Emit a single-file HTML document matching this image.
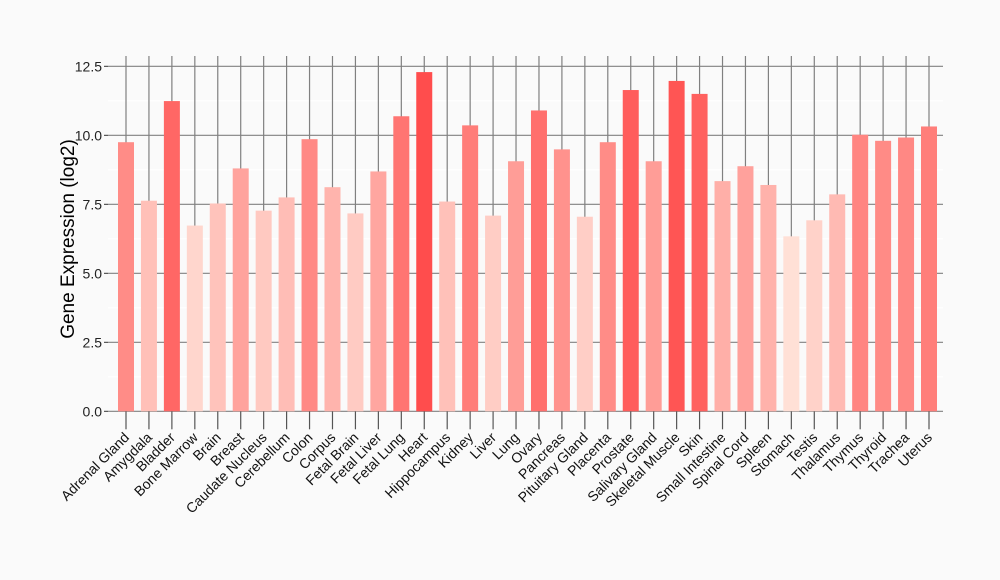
<!DOCTYPE html>
<html><head><meta charset="utf-8"><style>
html,body{margin:0;padding:0;background:#fafafa;}
svg{display:block;font-family:"Liberation Sans",Arial,sans-serif;}
</style></head><body>
<svg id="chart" width="1000" height="580">
<rect width="1000" height="580" fill="#fafafa"/>
<g id="grid"></g>
<g id="bars"></g>
<g id="yaxis"></g>
<g id="xaxis"></g>
<text x="74" y="239" transform="rotate(-90 74 239)" text-anchor="middle" font-size="19" fill="#000">Gene Expression (log2)</text>
</svg>
<script>
const categories = ["Adrenal Gland","Amygdala","Bladder","Bone Marrow","Brain","Breast","Caudate Nucleus","Cerebellum","Colon","Corpus","Fetal Brain","Fetal Liver","Fetal Lung","Heart","Hippocampus","Kidney","Liver","Lung","Ovary","Pancreas","Pituitary Gland","Placenta","Prostate","Salivary Gland","Skeletal Muscle","Skin","Small Intestine","Spinal Cord","Spleen","Stomach","Testis","Thalamus","Thymus","Thyroid","Trachea","Uterus"];
const values = [9.75,7.63,11.24,6.73,7.53,8.8,7.27,7.75,9.86,8.12,7.17,8.69,10.69,12.29,7.6,10.36,7.09,9.06,10.9,9.49,7.05,9.75,11.64,9.06,11.97,11.5,8.34,8.88,8.2,6.34,6.92,7.86,10.02,9.8,9.92,10.32];
const yTicks = [0,2.5,5,7.5,10,12.5];
const yTickLabels = ["0.0","2.5","5.0","7.5","10.0","12.5"];

const NS="http://www.w3.org/2000/svg";
const left=108, right=943, y0=411.3, yTop=66.3, yMax=12.5;
const n=categories.length;
const firstC=126, lastC=929;
const step=(lastC-firstC)/(n-1);
const bw=16;
function xPos(i){return firstC+i*step;}
function yPos(v){return y0-(v/yMax)*(y0-yTop);}
function mk(tag,attrs,parent){const e=document.createElementNS(NS,tag);for(const k in attrs)e.setAttribute(k,attrs[k]);parent.appendChild(e);return e;}
const vmin=Math.min(...values), vmax=Math.max(...values);
function color(v){const t=(v-vmin)/(vmax-vmin);
  const a=[255,224,214], b=[255,77,77];
  return "rgb("+a.map((c,i)=>Math.round(c+(b[i]-c)*t)).join(",")+")";}
const grid=document.getElementById('grid'), bars=document.getElementById('bars'),
      yax=document.getElementById('yaxis'), xax=document.getElementById('xaxis');
// minor grid
for(let k=0;k<yTicks.length-1;k++){
  const l=mk('line',{x1:left,x2:right,y1:yPos(yTicks[k]+1.25),y2:yPos(yTicks[k]+1.25),stroke:'#ffffff','stroke-width':1},grid);
  
  
}
for(let i=0;i<n;i++){
  const l=mk('line',{x1:xPos(i),x2:xPos(i),y1:56,y2:y0,stroke:'#808080','stroke-width':1.2},grid);
  
  
}
yTicks.forEach((t,k)=>{
  const y=yPos(t);
  const l=mk('line',{x1:left,x2:right,y1:y,y2:y,stroke:'#808080','stroke-width':1.2},grid);
  
  
  const tk=mk('line',{x1:left-4,x2:left,y1:y,y2:y,stroke:'#333','stroke-width':1},yax);
  
  
  const tx=mk('text',{x:left-6,y:y+5,'text-anchor':'end','font-size':14,fill:'#222'},yax);
  tx.textContent=yTickLabels[k];
  
  
});
values.forEach((v,i)=>{
  const r=mk('rect',{x:xPos(i)-bw/2,y:yPos(v),width:bw,height:y0-yPos(v),fill:color(v)},bars);
  
  
});
categories.forEach((c,i)=>{
  const x=xPos(i);
  const tk=mk('line',{x1:x,x2:x,y1:y0,y2:y0+18,stroke:'#555','stroke-width':1.2},xax);
  
  
  const tx=mk('text',{x:x+4,y:y0+27,'text-anchor':'end','font-size':14,fill:'#111',transform:'rotate(-45 '+(x+4)+' '+(y0+27)+')'},xax);
  tx.textContent=c;
  
  
});
</script>
</body></html>
